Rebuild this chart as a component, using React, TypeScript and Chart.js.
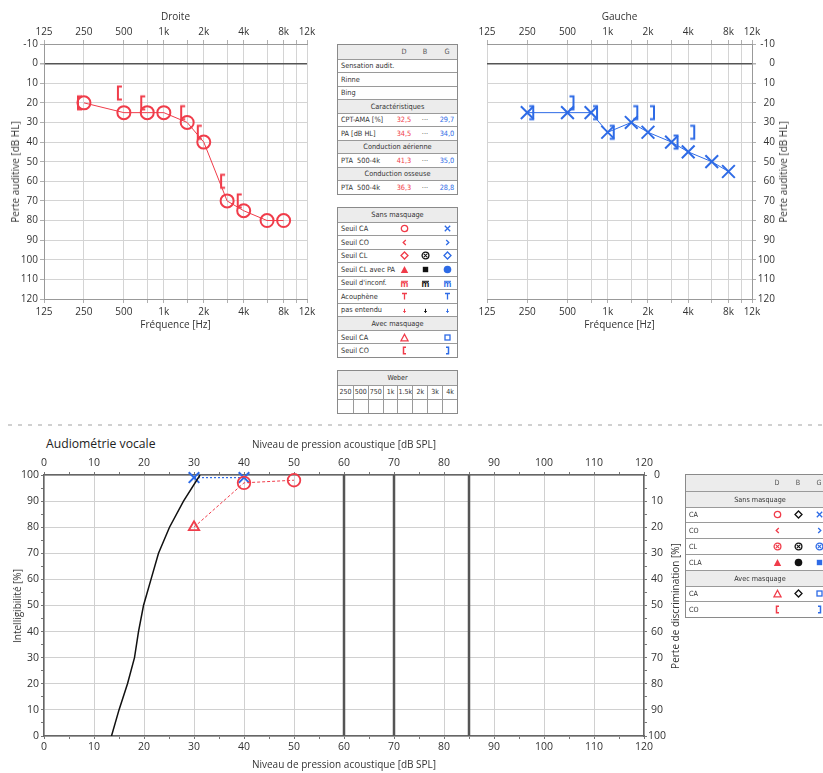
import React, { useEffect, useRef } from 'react';
import { Chart, registerables } from 'chart.js';

Chart.register(...registerables);

const FONT = "'Open Sans', 'DejaVu Sans', sans-serif";
const TFONT = "'Liberation Sans Narrow', 'DejaVu Sans Condensed', 'Liberation Sans', sans-serif";
const RED = '#f03c4a';
const BLUE = '#2e6be6';
const TXT = '#333';

// ---------- Audiogram data ----------
const FREQ_TICKS = [125, 250, 500, 750, 1000, 1500, 2000, 3000, 4000, 6000, 8000, 10000, 12000];
const FREQ_TICK_LABELS = ['125', '250', '500', '', '1k', '', '2k', '', '4k', '', '8k', '', '12k'];
const TEST_FREQS = [250, 500, 750, 1000, 1500, 2000, 3000, 4000, 6000, 8000];
const RIGHT_AC = [20, 25, 25, 25, 30, 40, 70, 75, 80, 80];
const LEFT_AC = [25, 25, 25, 35, 30, 35, 40, 45, 50, 55];
const RIGHT_BC_FREQS = [250, 500, 750, 1500, 2000, 3000, 4000];
const RIGHT_BC_MASKED = [20, 15, 20, 25, 35, 60, 70];
const LEFT_BC_FREQS = [250, 500, 750, 1000, 1500, 2000, 3000, 4000];
const LEFT_BC_MASKED = [25, 20, 25, 35, 25, 25, 40, 35];

// ---------- Speech audiometry data ----------
const NORM_LEVEL = [13.5, 15.0, 16.7, 18.1, 18.9, 19.9, 21.4, 22.9, 25.1, 27.9, 31.2];
const NORM_SCORE = [0, 10, 20, 30, 40, 50, 60, 70, 80, 90, 100];
const SPEECH_R_MASKED_LEVEL = [30];
const SPEECH_R_MASKED_SCORE = [80];
const SPEECH_R_LEVEL = [40, 50];
const SPEECH_R_SCORE = [97, 98];
const SPEECH_L_LEVEL = [30, 40];
const SPEECH_L_SCORE = [99, 99];
const REF_LEVELS = [60, 70, 85];

// ---------- Table data ----------
const SUBJECTIVE_TESTS = ['Sensation audit.', 'Rinne', 'Bing'];
const STAT_LABELS = ['CPT-AMA [%]', 'PA [dB HL]'];
const STAT_R = ['32,5', '34,5'];
const STAT_L = ['29,7', '34,0'];
const PTA_AIR = ['41,3', '35,0'];
const PTA_BONE = ['36,3', '28,8'];
const WEBER_FREQS = ['250', '500', '750', '1k', '1.5k', '2k', '3k', '4k'];

function bracketImg(color: string, side: 'L' | 'R') {
  const c = document.createElement('canvas');
  c.width = 26;
  c.height = 18;
  const g = c.getContext('2d')!;
  g.strokeStyle = color;
  g.lineWidth = 2;
  g.beginPath();
  if (side === 'L') {
    g.moveTo(11, 2.5); g.lineTo(7, 2.5); g.lineTo(7, 15.5); g.lineTo(11, 15.5);
  } else {
    g.moveTo(15, 2.5); g.lineTo(19, 2.5); g.lineTo(19, 15.5); g.lineTo(15, 15.5);
  }
  g.stroke();
  return c;
}

function freqAxis(position: 'top' | 'bottom', height: number, title: string, titlePad: any) {
  return {
    type: 'logarithmic',
    position,
    min: 125,
    max: 12000,
    bounds: 'data',
    afterBuildTicks: (s: any) => { s.ticks = FREQ_TICKS.map((v) => ({ value: v })); },
    afterFit: (s: any) => { s.height = height; },
    ticks: {
      autoSkip: false, maxRotation: 0, minRotation: 0, padding: position === 'top' ? 2 : 3,
      color: TXT, font: { family: FONT, size: 10 },
      callback: (_v: any, i: number) => FREQ_TICK_LABELS[i],
    },
    grid: { color: '#d4d4d4', tickColor: '#b0b0b0', tickLength: 4, drawOnChartArea: position === 'bottom' },
    border: { color: '#999' },
    title: { display: true, text: title, color: TXT, font: { family: FONT, size: 10 }, padding: titlePad },
  };
}

function audiogramConfig(side: 'R' | 'L'): any {
  const isR = side === 'R';
  const color = isR ? RED : BLUE;
  const ac = isR ? RIGHT_AC : LEFT_AC;
  const bcF = isR ? RIGHT_BC_FREQS : LEFT_BC_FREQS;
  const bc = isR ? RIGHT_BC_MASKED : LEFT_BC_MASKED;
  return {
    type: 'scatter',
    data: {
      datasets: [
        {
          data: TEST_FREQS.map((f, i) => ({ x: f, y: ac[i] })),
          showLine: true,
          borderColor: color,
          borderWidth: 1,
          pointStyle: isR ? 'circle' : 'crossRot',
          pointRadius: isR ? 6.5 : 9,
          pointBorderWidth: 2,
          pointBorderColor: color,
          pointBackgroundColor: 'rgba(0,0,0,0)',
          clip: false,
        },
        {
          data: bcF.map((f, i) => ({ x: f, y: bc[i] })),
          showLine: false,
          pointStyle: bracketImg(color, isR ? 'L' : 'R'),
          pointRadius: 6,
          clip: false,
        },
      ],
    },
    options: {
      animation: false,
      responsive: false,
      maintainAspectRatio: false,
      events: [],
      layout: { padding: isR ? { left: 0, right: 13, top: 0, bottom: 0 } : { left: 17, right: 48, top: 0, bottom: 0 } },
      plugins: { legend: { display: false }, tooltip: { enabled: false } },
      scales: {
        x: freqAxis('bottom', 41, 'Fréquence [Hz]', { top: 0, bottom: 9 }),
        xTop: freqAxis('top', 44, isR ? 'Droite' : 'Gauche', { top: 11, bottom: 0 }),
        y: {
          type: 'linear',
          position: isR ? 'left' : 'right',
          reverse: true,
          min: -10,
          max: 120,
          afterFit: (s: any) => { s.width = isR ? 44 : 23; },
          ticks: {
            stepSize: 10, color: TXT, font: { family: FONT, size: 10 },
            padding: isR ? 2 : 3, crossAlign: isR ? 'near' : 'far',
          },
          grid: {
            color: (c: any) => (c.tick && c.tick.value === 0 ? '#555' : '#d4d4d4'),
            lineWidth: (c: any) => (c.tick && c.tick.value === 0 ? 1.5 : 1),
            tickColor: '#b0b0b0',
            tickLength: 4,
          },
          border: { color: '#999' },
        },
      },
    },
  };
}

function linAxis(position: string, opts: any) {
  const major = (c: any) => c.tick && Math.round(c.tick.value) % 10 === 0;
  return {
    type: 'linear',
    position,
    ...opts,
    ticks: {
      stepSize: 5, autoSkip: false, maxRotation: 0, color: TXT,
      font: { family: FONT, size: 10.5 },
      callback: (v: number) => (Math.round(v) % 10 === 0 ? String(v) : ''),
      ...(opts.ticks || {}),
    },
    grid: {
      color: (c: any) => (major(c) ? '#d0d0d0' : 'rgba(0,0,0,0)'),
      tickColor: '#777',
      tickLength: 3,
      ...(opts.grid || {}),
    },
    border: { color: '#666', width: 1.5 },
  };
}

function speechConfig(): any {
  const refSets = REF_LEVELS.map((v) => ({
    data: [{ x: v, y: 0 }, { x: v, y: 100 }],
    showLine: true,
    borderColor: '#555',
    borderWidth: 2.5,
    pointRadius: 0,
  }));
  const rLineLevels = [...SPEECH_R_MASKED_LEVEL, ...SPEECH_R_LEVEL];
  const rLineScores = [...SPEECH_R_MASKED_SCORE, ...SPEECH_R_SCORE];
  const titleFont = { family: FONT, size: 10 };
  return {
    type: 'scatter',
    data: {
      datasets: [
        ...refSets,
        {
          data: NORM_LEVEL.map((x, i) => ({ x, y: NORM_SCORE[i] })),
          showLine: true,
          borderColor: '#111',
          borderWidth: 1.5,
          pointRadius: 0,
          tension: 0,
        },
        {
          data: rLineLevels.map((x, i) => ({ x, y: rLineScores[i] })),
          showLine: true,
          borderColor: RED,
          borderWidth: 1,
          borderDash: [3, 2],
          pointRadius: 0,
        },
        {
          data: SPEECH_R_MASKED_LEVEL.map((x, i) => ({ x, y: SPEECH_R_MASKED_SCORE[i] })),
          pointStyle: 'triangle',
          pointRadius: 6,
          pointBorderColor: RED,
          pointBorderWidth: 1.8,
          pointBackgroundColor: 'rgba(0,0,0,0)',
          clip: false,
        },
        {
          data: SPEECH_R_LEVEL.map((x, i) => ({ x, y: SPEECH_R_SCORE[i] })),
          pointStyle: 'circle',
          pointRadius: 6.3,
          pointBorderColor: RED,
          pointBorderWidth: 1.8,
          pointBackgroundColor: 'rgba(0,0,0,0)',
          clip: false,
        },
        {
          data: SPEECH_L_LEVEL.map((x, i) => ({ x, y: SPEECH_L_SCORE[i] })),
          showLine: true,
          borderColor: BLUE,
          borderWidth: 1.2,
          borderDash: [2, 2],
          pointStyle: 'crossRot',
          pointRadius: 7.5,
          pointBorderColor: BLUE,
          pointBorderWidth: 2,
          clip: false,
        },
      ],
    },
    options: {
      animation: false,
      responsive: false,
      maintainAspectRatio: false,
      events: [],
      layout: { padding: 0 },
      plugins: { legend: { display: false }, tooltip: { enabled: false } },
      scales: {
        x: linAxis('bottom', {
          min: 0, max: 120,
          afterFit: (s: any) => { s.height = 37; },
          ticks: { padding: 1.5 },
          title: { display: true, text: 'Niveau de pression acoustique [dB SPL]', color: TXT, font: titleFont, padding: { top: 0, bottom: 1.5 } },
        }),
        x2: linAxis('top', {
          min: 0, max: 120,
          afterFit: (s: any) => { s.height = 45; },
          ticks: { padding: 2.4 },
          grid: { drawOnChartArea: false },
          title: { display: true, text: 'Niveau de pression acoustique [dB SPL]', color: TXT, font: titleFont, padding: { top: 9, bottom: 0 } },
        }),
        y: linAxis('left', {
          min: 0, max: 100,
          afterFit: (s: any) => { s.width = 44; },
          ticks: { padding: 2 },
        }),
        y2: linAxis('right', {
          min: 0, max: 100, reverse: true,
          afterFit: (s: any) => { s.width = 40; },
          ticks: { padding: 1, crossAlign: 'center' },
          grid: { drawOnChartArea: false },
        }),
      },
    },
  };
}

function ChartCanvas({ left, top, width, height, build }: any) {
  const ref = useRef<HTMLCanvasElement>(null);
  useEffect(() => {
    const chart = new Chart(ref.current as HTMLCanvasElement, build());
    return () => chart.destroy();
  }, []);
  return (
    <canvas
      ref={ref}
      width={width}
      height={height}
      style={{ position: 'absolute', left, top, width, height }}
    />
  );
}

function Sym({ t, c }: { t: string; c: string }) {
  const p = { fill: 'none', stroke: c, strokeWidth: 1.3 };
  let el: any = null;
  switch (t) {
    case 'o': el = <circle cx={4.5} cy={4.5} r={3.2} {...p} />; break;
    case 'x': el = <path d="M1.8 1.8L7.2 7.2M7.2 1.8L1.8 7.2" {...p} />; break;
    case 'lt': el = <path d="M5.8 2L3.2 4.5L5.8 7" {...p} />; break;
    case 'gt': el = <path d="M3.2 2L5.8 4.5L3.2 7" {...p} />; break;
    case 'dia': el = <path d="M4.5 1L8 4.5L4.5 8L1 4.5Z" {...p} />; break;
    case 'cx':
      el = (
        <g>
          <circle cx={4.5} cy={4.5} r={3.4} {...p} />
          <path d="M2.8 2.8L6.2 6.2M6.2 2.8L2.8 6.2" {...p} strokeWidth={1.1} />
        </g>
      );
      break;
    case 'triF': el = <path d="M4.5 1L8.2 8H0.8Z" fill={c} />; break;
    case 'sqF': el = <rect x={1.8} y={1.8} width={5.4} height={5.4} fill={c} />; break;
    case 'dotF': el = <circle cx={4.5} cy={4.5} r={3.8} fill={c} />; break;
    case 'm':
      el = (
        <g>
          <path d="M1 2.3H8" {...p} strokeWidth={1} />
          <text x={4.5} y={8} fontSize={8} textAnchor="middle" fill={c} fontFamily={FONT} fontWeight="bold">m</text>
        </g>
      );
      break;
    case 'T': el = <path d="M2 1.5H7M4.5 1.5V7.5" {...p} />; break;
    case 'arr': el = <path d="M4.5 2.8V6.5M3.2 5.2L4.5 6.5L5.8 5.2" {...p} strokeWidth={1} />; break;
    case 'triO': el = <path d="M4.5 1.3L8 7.8H1Z" {...p} />; break;
    case 'sqO': el = <rect x={2} y={2} width={5} height={5} {...p} />; break;
    case 'lb': el = <path d="M6 1.2H3.5V7.8H6" {...p} strokeWidth={1.5} />; break;
    case 'rb': el = <path d="M3 1.2H5.5V7.8H3" {...p} strokeWidth={1.5} />; break;
    default: el = null;
  }
  return (
    <svg width={9} height={9} viewBox="0 0 9 9" style={{ display: 'block' }}>
      {el}
    </svg>
  );
}

type Cell = { txt?: string; sym?: string; c: string } | null;
type Row = { head?: boolean; title?: string; label?: string; cells?: Cell[] };

function InfoTable({ left, top, width, rowH, cols, rows, fs }: { left: number; top: number; width: number; rowH: number; cols: number[]; rows: Row[]; fs: number }) {
  return (
    <div
      style={{
        position: 'absolute', left, top, width, boxSizing: 'border-box',
        border: '1px solid #8a8a8a', fontFamily: TFONT, fontSize: fs, color: TXT, background: '#fff',
        lineHeight: 1,
      }}
    >
      {rows.map((r, i) => (
        <div
          key={i}
          style={{
            position: 'relative', height: rowH, boxSizing: 'border-box',
            borderTop: i ? '1px solid #9a9a9a' : 'none',
            background: r.head ? '#ececec' : '#fff',
          }}
        >
          {r.title && (
            <div style={{ position: 'absolute', left: 0, right: 0, top: 0, bottom: 0, display: 'flex', alignItems: 'center', justifyContent: 'center' }}>
              {r.title}
            </div>
          )}
          {r.label && (
            <div style={{ position: 'absolute', left: 3, top: 0, bottom: 0, display: 'flex', alignItems: 'center', whiteSpace: 'pre' }}>
              {r.label}
            </div>
          )}
          {r.cells &&
            r.cells.map((c, j) =>
              c ? (
                <div
                  key={j}
                  style={{
                    position: 'absolute', left: cols[j] - 12, width: 24, top: 0, bottom: 0,
                    display: 'flex', alignItems: 'center', justifyContent: 'center', color: c.c,
                  }}
                >
                  {c.sym ? <Sym t={c.sym} c={c.c} /> : c.txt}
                </div>
              ) : null
            )}
        </div>
      ))}
    </div>
  );
}

function WeberTable({ left, top, width, rowH, fs }: any) {
  const colW = width / WEBER_FREQS.length;
  const cellRow = (content: (s: string) => string, key: string) => (
    <div key={key} style={{ display: 'flex', height: rowH, borderTop: '1px solid #9a9a9a', boxSizing: 'border-box' }}>
      {WEBER_FREQS.map((f, i) => (
        <div
          key={i}
          style={{
            width: colW, boxSizing: 'border-box', borderLeft: i ? '1px solid #9a9a9a' : 'none',
            display: 'flex', alignItems: 'center', justifyContent: 'center',
          }}
        >
          {content(f)}
        </div>
      ))}
    </div>
  );
  return (
    <div
      style={{
        position: 'absolute', left, top, width, boxSizing: 'border-box',
        border: '1px solid #8a8a8a', fontFamily: TFONT, fontSize: fs, color: TXT, background: '#fff', lineHeight: 1,
      }}
    >
      <div style={{ height: rowH, background: '#ececec', display: 'flex', alignItems: 'center', justifyContent: 'center' }}>Weber</div>
      {cellRow((f) => f, 'a')}
      {cellRow(() => '', 'b')}
    </div>
  );
}

function VText({ cx, cy, text, fs }: { cx: number; cy: number; text: string; fs: number }) {
  return (
    <div
      style={{
        position: 'absolute', left: cx, top: cy, transform: 'translate(-50%, -50%) rotate(-90deg)',
        whiteSpace: 'nowrap', fontFamily: FONT, fontSize: fs, color: TXT, lineHeight: 1,
      }}
    >
      {text}
    </div>
  );
}

const GRAY = '#555';
const hdr = (): Cell[] => [{ txt: 'D', c: GRAY }, { txt: 'B', c: GRAY }, { txt: 'G', c: GRAY }];
const triple = (r: string, l: string): Cell[] => [{ txt: r, c: RED }, { txt: '···', c: GRAY }, { txt: l, c: BLUE }];

const TOP_ROWS: Row[] = [
  { head: true, cells: hdr() },
  ...SUBJECTIVE_TESTS.map((l) => ({ label: l })),
  { head: true, title: 'Caractéristiques' },
  ...STAT_LABELS.map((l, i) => ({ label: l, cells: triple(STAT_R[i], STAT_L[i]) })),
  { head: true, title: 'Conduction aérienne' },
  { label: 'PTA  500-4k', cells: triple(PTA_AIR[0], PTA_AIR[1]) },
  { head: true, title: 'Conduction osseuse' },
  { label: 'PTA  500-4k', cells: triple(PTA_BONE[0], PTA_BONE[1]) },
];

const s = (sym: string, c: string): Cell => ({ sym, c });
const K = '#111';

const LEGEND_ROWS: Row[] = [
  { head: true, title: 'Sans masquage' },
  { label: 'Seuil CA', cells: [s('o', RED), null, s('x', BLUE)] },
  { label: 'Seuil CO', cells: [s('lt', RED), null, s('gt', BLUE)] },
  { label: 'Seuil CL', cells: [s('dia', RED), s('cx', K), s('dia', BLUE)] },
  { label: 'Seuil CL avec PA', cells: [s('triF', RED), s('sqF', K), s('dotF', BLUE)] },
  { label: "Seuil d'inconf.", cells: [s('m', RED), s('m', K), s('m', BLUE)] },
  { label: 'Acouphène', cells: [s('T', RED), null, s('T', BLUE)] },
  { label: 'pas entendu', cells: [s('arr', RED), s('arr', K), s('arr', BLUE)] },
  { head: true, title: 'Avec masquage' },
  { label: 'Seuil CA', cells: [s('triO', RED), null, s('sqO', BLUE)] },
  { label: 'Seuil CO', cells: [s('lb', RED), null, s('rb', BLUE)] },
];

const SPEECH_LEGEND_ROWS: Row[] = [
  { head: true, cells: hdr() },
  { head: true, title: 'Sans masquage' },
  { label: 'CA', cells: [s('o', RED), s('dia', K), s('x', BLUE)] },
  { label: 'CO', cells: [s('lt', RED), null, s('gt', BLUE)] },
  { label: 'CL', cells: [s('cx', RED), s('cx', K), s('cx', BLUE)] },
  { label: 'CLA', cells: [s('triF', RED), s('dotF', K), s('sqF', BLUE)] },
  { head: true, title: 'Avec masquage' },
  { label: 'CA', cells: [s('triO', RED), s('dia', K), s('sqO', BLUE)] },
  { label: 'CO', cells: [s('lb', RED), null, s('rb', BLUE)] },
];

export default function App() {
  return (
    <div
      style={{
        position: 'absolute', left: 0, top: 0, width: 823, height: 773, overflow: 'hidden',
        background: '#fff', fontFamily: FONT,
      }}
    >
      <ChartCanvas left={0} top={0} width={320} height={340} build={() => audiogramConfig('R')} />
      <ChartCanvas left={470} top={0} width={353} height={340} build={() => audiogramConfig('L')} />
      <VText cx={15} cy={171.5} text="Perte auditive [dB HL]" fs={10} />
      <VText cx={783} cy={171.5} text="Perte auditive [dB HL]" fs={10} />

      <InfoTable left={337} top={44} width={121} rowH={13.5} cols={[66, 87, 109]} rows={TOP_ROWS} fs={7.3} />
      <InfoTable left={337} top={207} width={121} rowH={13.55} cols={[66, 87, 109]} rows={LEGEND_ROWS} fs={7.3} />
      <WeberTable left={337} top={370} width={121} rowH={14} fs={7} />

      <div
        style={{
          position: 'absolute', left: 8, top: 424, width: 815, height: 2,
          background: 'repeating-linear-gradient(to right, #d0d0d0 0 4px, rgba(0,0,0,0) 4px 10px)',
        }}
      />

      <div style={{ position: 'absolute', left: 46, top: 437, fontFamily: FONT, fontSize: 12.2, color: '#222', lineHeight: 1.2 }}>
        Audiométrie vocale
      </div>
      <ChartCanvas left={0} top={430} width={684} height={343} build={speechConfig} />
      <VText cx={17} cy={605.5} text="Intelligibilité [%]" fs={10} />
      <VText cx={675} cy={605.5} text="Perte de discrimination [%]" fs={10} />

      <InfoTable left={685} top={474} width={150} rowH={15.8} cols={[91, 112, 133]} rows={SPEECH_LEGEND_ROWS} fs={7.2} />
    </div>
  );
}
